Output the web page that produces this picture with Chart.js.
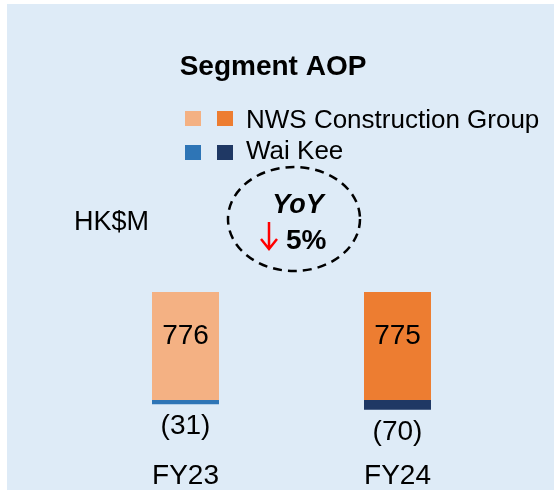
<!DOCTYPE html>
<html>
<head>
<meta charset="utf-8">
<script src="https://cdn.jsdelivr.net/npm/chart.js@4"></script>
<style>
  html, body { margin: 0; padding: 0; background: #ffffff; }
  #c { display: block; }
</style>
</head>
<body>
<canvas id="c" width="554" height="490"></canvas>
<script>
const categories = ['FY23', 'FY24'];
const nwsValues = [776, 775];
const waiKeeValues = [-31, -70];
const seriesNames = ['NWS Construction Group', 'Wai Kee'];
const nwsColors = ['#F4B183', '#ED7D31'];
const waiKeeColors = ['#2E75B6', '#1F3864'];
const unitLabel = 'HK$M';
const chartTitle = 'Segment AOP';
const yoyPercent = 5;

const FONT = '"Liberation Sans", Arial, sans-serif';
const fmt = v => v < 0 ? '(' + Math.abs(v) + ')' : String(v);

const deco = {
  id: 'deco',
  beforeDraw(chart) {
    const ctx = chart.ctx;
    ctx.save();
    ctx.fillStyle = '#DEEBF7';
    ctx.fillRect(7, 4, chart.width - 7, chart.height - 4);
    ctx.restore();
  },
  afterDraw(chart) {
    const ctx = chart.ctx;
    ctx.save();
    ctx.fillStyle = '#000';
    ctx.textBaseline = 'alphabetic';

    // Title
    ctx.font = 'bold 28px ' + FONT;
    ctx.textAlign = 'center';
    ctx.fillText(chartTitle, 273, 75);

    // Legend
    const ds = chart.data.datasets;
    const rows = [{y: 111, base: 128}, {y: 145, base: 159}];
    ctx.font = '26px ' + FONT;
    ctx.textAlign = 'left';
    ds.forEach((d, i) => {
      const r = rows[i];
      ctx.fillStyle = d.backgroundColor[0];
      ctx.fillRect(185, r.y, 16, 15);
      ctx.fillStyle = d.backgroundColor[1];
      ctx.fillRect(217, r.y, 16, 15);
      ctx.fillStyle = '#000';
      ctx.fillText(d.label, 246, r.base);
    });

    // Unit label
    ctx.font = '27px ' + FONT;
    ctx.fillText(unitLabel, 74, 230);

    // Dashed ellipse
    ctx.beginPath();
    ctx.setLineDash([9, 6]);
    ctx.lineWidth = 2.5;
    ctx.strokeStyle = '#000';
    ctx.ellipse(294, 219, 66, 52, 0, 0, Math.PI * 2);
    ctx.stroke();
    ctx.setLineDash([]);

    ctx.font = 'italic bold 27px ' + FONT;
    ctx.textAlign = 'center';
    ctx.fillText('YoY', 298, 213);

    // Red down arrow
    ctx.strokeStyle = '#FF0000';
    ctx.lineWidth = 2.5;
    ctx.beginPath();
    ctx.moveTo(269, 222);
    ctx.lineTo(269, 248);
    ctx.moveTo(261, 239);
    ctx.lineTo(269, 249);
    ctx.lineTo(277, 239);
    ctx.stroke();

    ctx.font = 'bold 28px ' + FONT;
    ctx.textAlign = 'left';
    ctx.fillText(yoyPercent + '%', 286, 249);

    // Data labels
    ctx.font = '28px ' + FONT;
    ctx.textAlign = 'center';
    const m0 = chart.getDatasetMeta(0);
    m0.data.forEach((el, i) => {
      ctx.fillText(fmt(ds[0].data[i]), el.x, el.y + 52);
    });
    const m1 = chart.getDatasetMeta(1);
    m1.data.forEach((el, i) => {
      ctx.fillText(fmt(ds[1].data[i]), el.x, el.y + 30);
    });

    // Category labels
    const xs = chart.scales.x;
    chart.data.labels.forEach((lab, i) => {
      ctx.fillText(lab, xs.getPixelForValue(i), 484);
    });
    ctx.restore();
  }
};

new Chart(document.getElementById('c'), {
  type: 'bar',
  data: {
    labels: categories,
    datasets: [
      { label: seriesNames[0], data: nwsValues, backgroundColor: nwsColors, borderWidth: 0 },
      { label: seriesNames[1], data: waiKeeValues, backgroundColor: waiKeeColors, borderWidth: 0 }
    ]
  },
  options: {
    responsive: false,
    animation: false,
    devicePixelRatio: 1,
    layout: { padding: { left: 79.5, right: 50.5, top: 260.8, bottom: 76.1 } },
    datasets: { bar: { categoryPercentage: 1, barPercentage: 0.316 } },
    scales: {
      x: { display: false, stacked: true },
      y: { display: false, stacked: true, min: -100, max: 1000 }
    },
    plugins: { legend: { display: false }, tooltip: { enabled: false }, title: { display: false } }
  },
  plugins: [deco]
});
</script>
</body>
</html>
